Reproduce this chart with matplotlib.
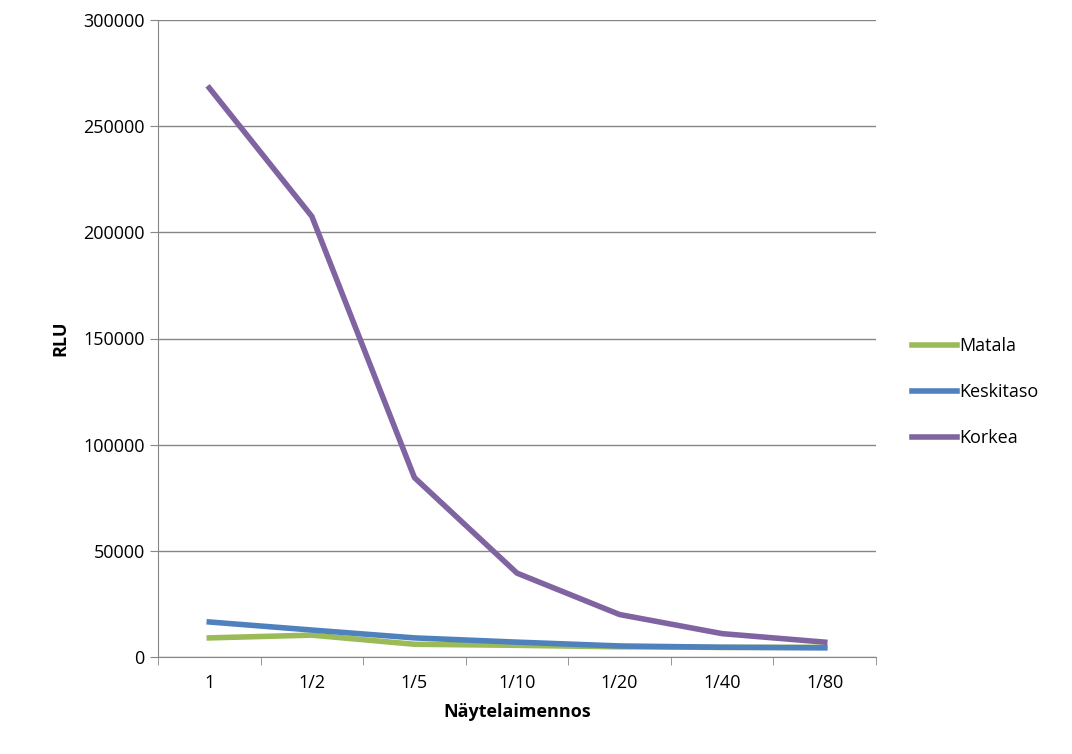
import matplotlib.pyplot as plt

labels = ["1", "1/2", "1/5", "1/10", "1/20", "1/40", "1/80"]
matala = [9000, 10300, 6000, 5500, 4800, 4500, 4600]
keskitaso = [16500, 12700, 9000, 7000, 5200, 4600, 4300]
korkea = [268000, 207500, 84500, 39500, 20000, 11000, 7000]

plt.rcParams['font.family'] = ['Open Sans', 'DejaVu Sans']
fig = plt.figure(figsize=(10.72, 7.54), dpi=100)
ax = fig.add_axes([158/1072, 1-657/754, (876-158)/1072, (657-20)/754])

x = range(len(labels))
ax.plot(x, matala, color="#9bbb59", lw=4, label="Matala")
ax.plot(x, keskitaso, color="#4f81bd", lw=4, label="Keskitaso")
ax.plot(x, korkea, color="#8064a2", lw=4, label="Korkea")

ax.set_xlim(-0.5, len(labels)-0.5)
ax.set_ylim(0, 300000)
ax.set_yticks(range(0, 300001, 50000))
ax.set_xticks(list(x))
ax.set_xticklabels(labels)
ax.set_xticks([i-0.5 for i in range(len(labels)+1)], minor=True)
ax.tick_params(axis='x', which='major', length=0, pad=12, labelsize=13)
ax.tick_params(axis='x', which='minor', length=6, color="#868686")
ax.tick_params(axis='y', length=6, color="#868686", labelsize=13)
ax.grid(axis='y', color="#868686", lw=1)
ax.set_axisbelow(True)
for s in ["top", "right"]:
    ax.spines[s].set_visible(False)
for s in ["left", "bottom"]:
    ax.spines[s].set_color("#868686")
ax.set_xlabel("Näytelaimennos", fontsize=13, fontweight="bold", labelpad=8)
ax.set_ylabel("RLU", fontsize=13, fontweight="bold", labelpad=10)
ax.legend(loc="center left", bbox_to_anchor=(1.028, 0.416), frameon=False,
          fontsize=13, handlelength=2.5, handletextpad=0.1, labelspacing=1.55)

plt.savefig("out.png", dpi=100)
